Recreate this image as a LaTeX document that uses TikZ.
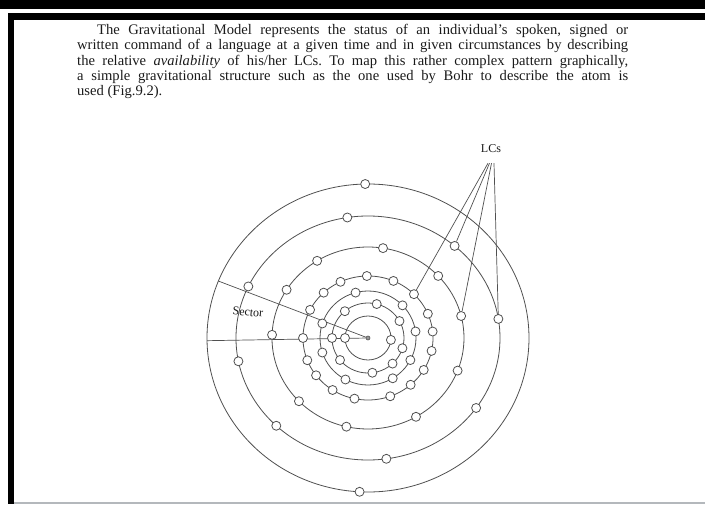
\documentclass[tikz,border=0pt]{standalone}
\usepackage{fontspec}
\setmainfont{Liberation Serif}
\usepackage{xcolor}
\definecolor{RingGray}{HTML}{505050}
\definecolor{InkBlack}{HTML}{1A1A1A}
\definecolor{ScanGray}{HTML}{B4B8BC}
\usetikzlibrary{positioning,calc}

\begin{document}
\begin{tikzpicture}[
  x=1pt, y=1pt,
  ring/.style={draw=RingGray, line width=0.8pt},
  spoke/.style={draw=RingGray, line width=0.7pt},
  lc/.style={circle, draw=RingGray, fill=white, line width=0.8pt, inner sep=0pt, minimum size=9pt},
  nucleus/.style={circle, draw=RingGray, fill=RingGray!60, line width=0.6pt, inner sep=0pt, minimum size=4pt},
  lbl/.style={font=\fontsize{12}{13}\selectfont, text=InkBlack, inner sep=0pt},
  para/.style={text width=551pt, align=justify, inner sep=0pt, text=InkBlack,
               font=\fontsize{14.6}{15.3}\selectfont},
]
  \useasboundingbox (-368,-166) rectangle (337,338);
  % edges of the scanned page
  \fill[black] (-368,329) rectangle (337,338);
  \fill[black] (-360,318) rectangle (337,325);
  \fill[black] (-360,-166) rectangle (-354,325);
  \fill[ScanGray] (-354,-166) rectangle (337,-163.5);

  % Text
  \node[para, anchor=north west] (intro) at (-291,314) {\hyphenpenalty=10000\frenchspacing
    \hspace*{20pt}The Gravitational Model represents the status of an individual’s spoken, signed or\linebreak
    written command of a language at a given time and in given circumstances by describing\linebreak
    the relative \textit{availability} of his/her LCs. To map this rather complex pattern graphically,\linebreak
    a simple gravitational structure such as the one used by Bohr to describe the atom is\linebreak
    used (Fig.9.2).};

  % Orbits
  \foreach \rx/\ry in {23/22, 36/35, 48/47, 65/62, 96/91, 132/122, 161/154}
    \draw[ring] (0,0) ellipse [x radius=\rx, y radius=\ry];

  % Sector
  \node[nucleus] (nucleus) at (0,0) {};
  \coordinate (secA) at (158.3:161 and 154);
  \coordinate (secB) at (181:161 and 154);
  \draw[spoke] (nucleus) -- (secA);
  \draw[spoke] (nucleus) -- (secB);
  \node[lbl, rotate=-5] (sector) at (-120,26) {Sector};

  % LCs on the orbits
  \foreach \a [count=\i] in {-5,180}
    \node[lc] (o1-\i) at (\a:23 and 22) {};
  \foreach \a [count=\i] in {29,76,130,180,219,277,313,343}
    \node[lc] (o2-\i) at (\a:36 and 35) {};
  \foreach \a [count=\i] in {8,44,105,162,198,242,301,332}
    \node[lc] (o3-\i) at (\a:48 and 47) {};
  \foreach \a [count=\i] in {6,23,45,67,91,115,133,153,180,201,217,237,258,290,311,329,348}
    \node[lc] (o4-\i) at (\a:65 and 62) {};
  \foreach \a [count=\i] in {14,43,81,122,148,178,224,257,300,339}
    \node[lc] (o5-\i) at (\a:96 and 91) {};
  \foreach \a [count=\i] in {9,49,99,155,191,226,278,325}
    \node[lc] (o6-\i) at (\a:132 and 122) {};
  \foreach \a [count=\i] in {91,267}
    \node[lc] (o7-\i) at (\a:161 and 154) {};

  % LCs label
  \node[lbl] (lcs) at (123,189) {LCs};
  \coordinate (fan) at ([yshift=-10pt]lcs.south);
  \draw[spoke] ([xshift=-3pt]fan) -- (o4-3);
  \draw[spoke] ([xshift=-1.5pt]fan) -- (o6-2);
  \draw[spoke] ([xshift=0.5pt]fan) -- (o5-1);
  \draw[spoke] ([xshift=3pt]fan) -- (o6-1);
\end{tikzpicture}
\end{document}
